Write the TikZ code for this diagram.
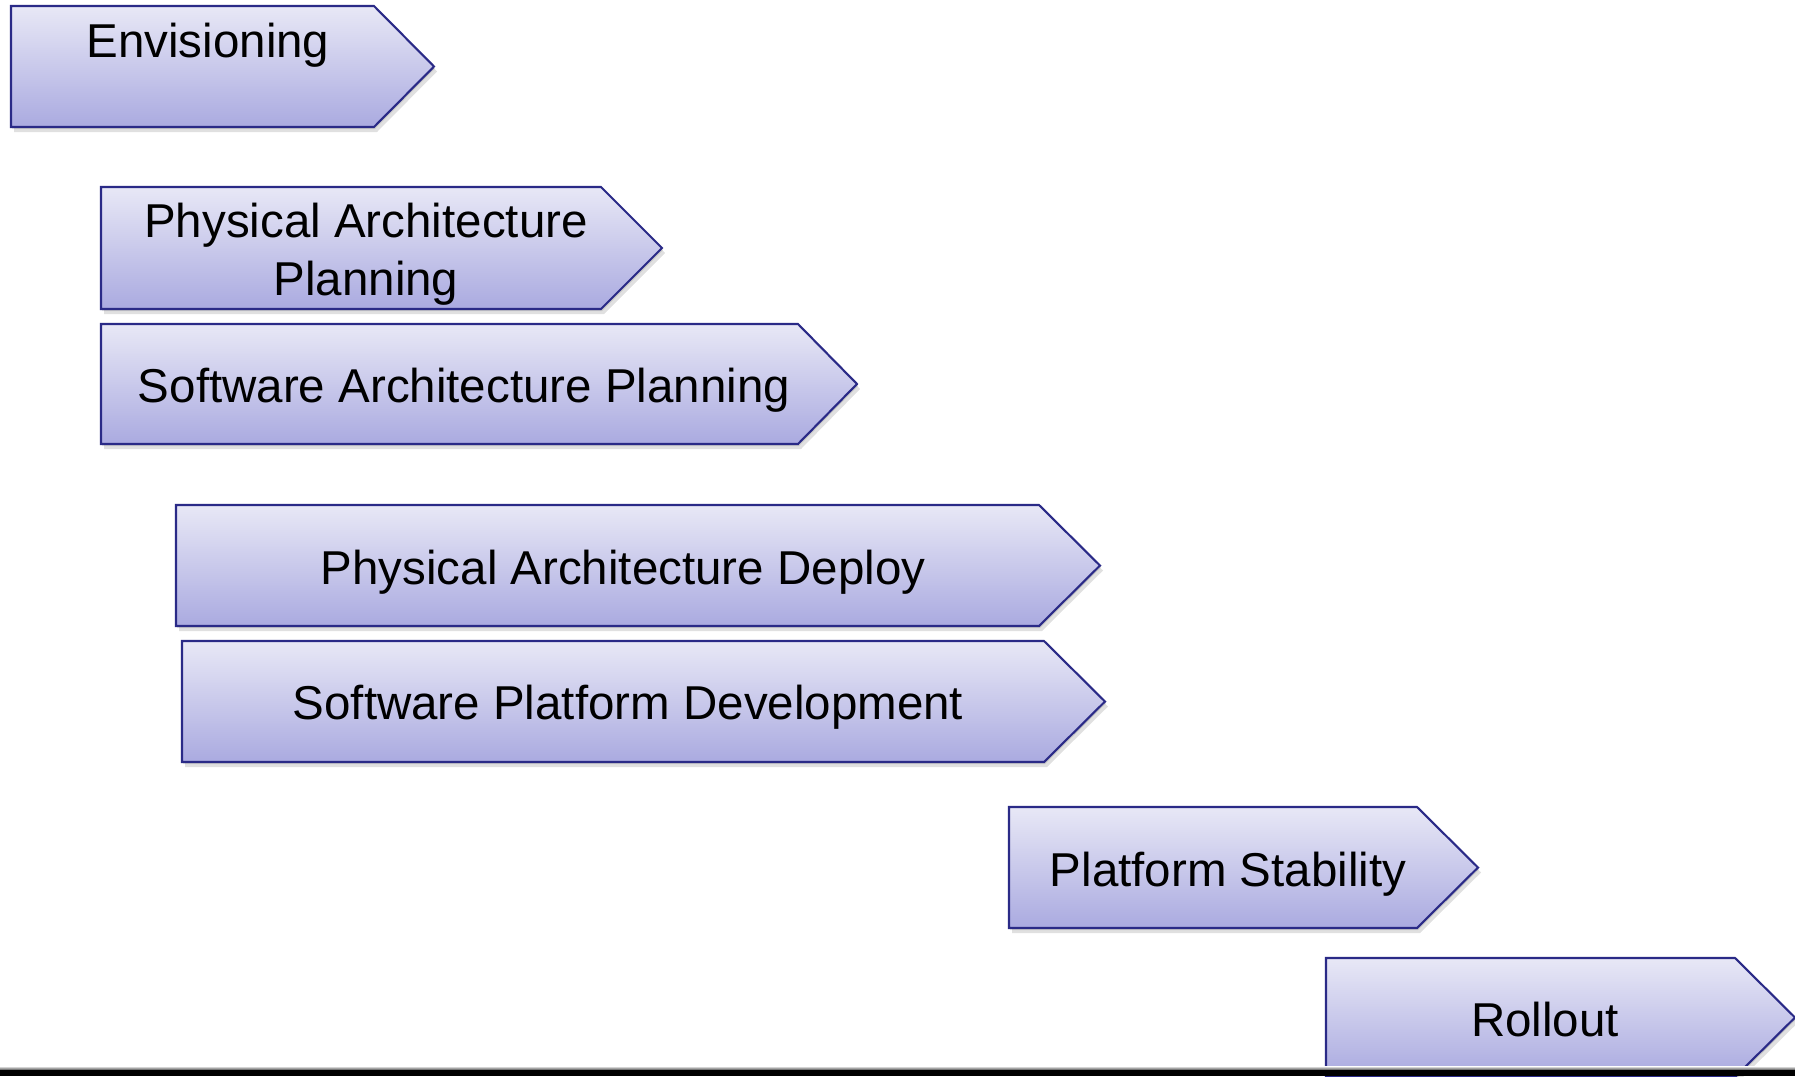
\documentclass[tikz,border=0pt]{standalone}
\usepackage{fontspec}
\setmainfont{Liberation Sans}
\definecolor{chevtop}{RGB}{232,232,246}
\definecolor{chevbot}{RGB}{170,170,224}
\definecolor{chevline}{RGB}{42,42,135}
% chevron: #1 left x, #2 top y, #3 notch x, #4 tip x, #5 bottom y
\newcommand\chev[5]{%
  \fill[black, opacity=0.10] ([shift={(1,2)}]#1,#2) -- ([shift={(1,2)}]#3,#2) -- ([shift={(1,2)}]#4,{(#2+#5)/2}) -- ([shift={(1,2)}]#3,#5) -- ([shift={(1,2)}]#1,#5) -- cycle;
  \fill[black, opacity=0.12] ([shift={(3,5)}]#1,#2) -- ([shift={(3,5)}]#3,#2) -- ([shift={(3,5)}]#4,{(#2+#5)/2}) -- ([shift={(3,5)}]#3,#5) -- ([shift={(3,5)}]#1,#5) -- cycle;
  \shade[chevshape] (#1,#2) -- (#3,#2) -- (#4,{(#2+#5)/2}) -- (#3,#5) -- (#1,#5) -- cycle;
}
\tikzset{
  chevshape/.style={top color=chevtop, bottom color=chevbot, draw=chevline, line width=2.1pt, line join=miter},
  label/.style={inner sep=0pt, align=center, font=\fontsize{47.5}{58}\selectfont, text=black}
}
\begin{document}
\begin{tikzpicture}[x=1pt, y=-1pt]
\useasboundingbox (0,0) rectangle (1795,1076);
\fill[white] (0,0) rectangle (1795,1076);

\chev{11}{6}{374}{434}{127}
\node[label] (envisioning) at (208,45.5) {Envisioning};

\chev{101}{187}{601}{662}{309}
\node[label] (physplan) at (366,254) {Physical Architecture\\Planning};

\chev{101}{324}{798}{857}{444}
\node[label] (softplan) at (464,390.5) {Software Architecture Planning};

\chev{176}{505}{1039}{1100}{626}
\node[label] (physdeploy) at (623,572.5) {Physical Architecture Deploy};

\chev{182}{641}{1044}{1105}{762}
\node[label] (softdev) at (628,707.5) {Software Platform Development};

\chev{1009}{807}{1417}{1478}{928}
\node[label] (stability) at (1228,874.5) {Platform Stability};

\chev{1326}{958}{1735}{1795}{1077}
\node[label] (rollout) at (1545,1020) {Rollout};

% footer rule
\shade[top color=white, bottom color=black!70] (0,1066) rectangle (1795,1070);
\fill[black] (0,1070) rectangle (1795,1076);
\end{tikzpicture}
\end{document}
